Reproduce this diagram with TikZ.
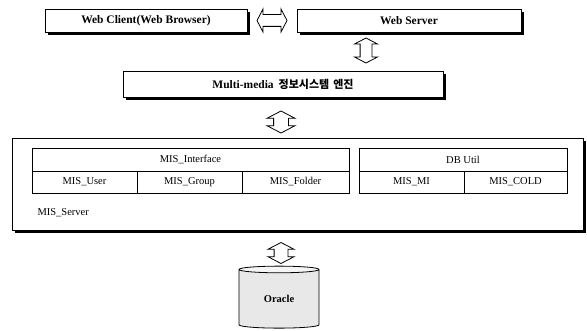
\documentclass[tikz,border=0pt]{standalone}
\usepackage{fontspec}
\setmainfont{Liberation Serif}
\newfontfamily\kr{Noto Sans CJK KR}
\usetikzlibrary{shapes.arrows,shapes.geometric,shadows,calc}
\tikzset{
  topbox/.style={draw,line width=0.9pt,fill=white,inner sep=0pt,
    drop shadow={shadow xshift=3pt,shadow yshift=-3pt,fill=black,opacity=1},
    font=\fontsize{11.5}{13}\selectfont\bfseries},
  cell/.style={draw,line width=0.7pt,fill=white,inner sep=0pt,
    font=\fontsize{10.5}{12}\selectfont},
  dbl/.style={double arrow,draw,line width=0.8pt,fill=white,inner xsep=0pt,inner ysep=5.5pt,
    double arrow head extend=5.5pt,double arrow head indent=0pt,
    double arrow tip angle=125},
}
\begin{document}
\begin{tikzpicture}[x=1pt,y=-1pt]
\useasboundingbox (0,0) rectangle (587,331);
% top row
\node[topbox,minimum width=202pt,minimum height=23pt] (wc) at (146,20.5) {Web Client(Web Browser)};
\node[topbox,minimum width=224pt,minimum height=23pt] (ws) at (409,20.5) {Web Server};
\node[dbl,minimum height=30pt] (a0) at ($(wc.east)!0.5!(ws.west)$) {};
% engine
\node[topbox,minimum width=320pt,minimum height=26pt] (eng) at (283,84)
  {Multi-media\hspace{5pt}{\kr\fontsize{11}{13}\selectfont 정보시스템\hspace{4pt}엔진}};
\node[dbl,rotate=90,minimum height=25pt] (a1) at (366,50.5) {};
% server
\node[topbox,minimum width=571pt,minimum height=92pt] (srv) at (297.5,184) {};
\node[dbl,rotate=90,minimum height=22pt,inner ysep=7pt,double arrow head extend=6.5pt] (a2) at (281,122) {};
\node[anchor=west,font=\fontsize{10.5}{12}\selectfont] (srvl) at (34,213) {MIS\_Server};
% MIS interface
\node[cell,minimum width=317pt,minimum height=23pt] (mi) at (190.5,159.5) {MIS\_Interface};
\node[cell,minimum width=105pt,minimum height=22pt] (mu) at (84.5,182) {MIS\_User};
\node[cell,minimum width=105pt,minimum height=22pt] (mg) at (189.5,182) {MIS\_Group};
\node[cell,minimum width=107pt,minimum height=22pt] (mf) at (295.5,182) {MIS\_Folder};
% DB util
\node[cell,minimum width=208pt,minimum height=23pt] (db) at (463,159.5) {DB Util};
\node[cell,minimum width=105pt,minimum height=22pt] (mm) at (411.5,182) {MIS\_MI};
\node[cell,minimum width=103pt,minimum height=22pt] (mc) at (515.5,182) {MIS\_COLD};
% oracle
\node[dbl,rotate=90,minimum height=21pt,inner ysep=6.5pt,double arrow head extend=6pt] (a3) at (281,253) {};
\node[cylinder,shape border rotate=90,aspect=0.22,draw,line width=0.8pt,
  cylinder uses custom fill,cylinder body fill=gray!18,cylinder end fill=gray!8,
  minimum width=80pt,minimum height=62pt,inner sep=0pt,
  font=\fontsize{10.5}{12}\selectfont\bfseries] (ora) at (279,299) {Oracle};
\end{tikzpicture}
\end{document}
